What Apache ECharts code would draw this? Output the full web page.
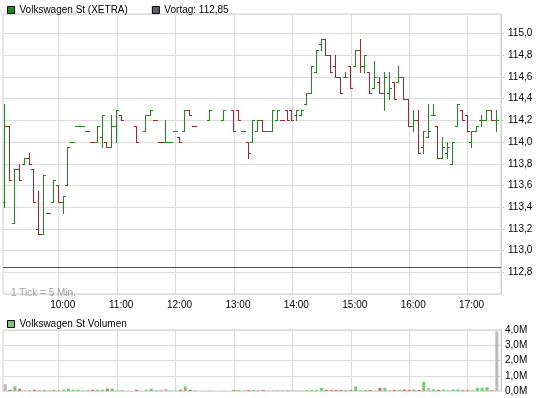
<!DOCTYPE html>
<html><head><meta charset="utf-8">
<script src="https://cdn.jsdelivr.net/npm/echarts@6/dist/echarts.min.js"></script>
<style>html,body{margin:0;padding:0;background:#fff}#c{width:545px;height:398px}</style>
</head><body><div id="c"></div>
<script>
// ---- data (5-minute OHLC bars, XETRA) ----
const times = ["09:05","09:10","09:15","09:20","09:25","09:30","09:35","09:40","09:45","09:50","09:55","10:00","10:05","10:10","10:15","10:20","10:25","10:30","10:35","10:40","10:45","10:50","10:55","11:00","11:05",
"11:20",
"11:30","11:35","11:40","11:45","11:50","11:55","12:00","12:05","12:10","12:15","12:20",
"12:35","12:50",
"13:00","13:05","13:10","13:15","13:20","13:25","13:30","13:35","13:40","13:45","13:50","13:55",
"14:00","14:05","14:10","14:15","14:20","14:25","14:30","14:35","14:40","14:45","14:50","14:55",
"15:00","15:05","15:10","15:15","15:20","15:25","15:30","15:35","15:40","15:45","15:50","15:55",
"16:00","16:05","16:10","16:15","16:20","16:25","16:30","16:35","16:40","16:45","16:50","16:55",
"17:00","17:05","17:10","17:15","17:20","17:25","17:30"];
const opens = [113.45,114.15,113.25,113.75,113.80,113.85,113.75,113.20,113.15,113.35,113.45,113.60,113.45,113.60,114.00,114.15,114.15,114.10,114.00,114.00,114.05,114.00,113.95,114.15,114.25,
114.15,
114.10,114.25,114.20,114.00,114.00,114.00,114.10,114.05,114.10,114.30,114.15,
114.20,114.20,
114.30,114.30,114.10,114.00,114.00,114.10,114.20,114.10,114.10,114.20,114.20,114.30,
114.30,114.25,114.25,114.35,114.45,114.65,114.90,114.95,114.80,114.70,114.60,114.60,
114.70,114.70,114.85,114.70,114.65,114.50,114.55,114.45,114.45,114.55,114.55,114.60,
114.40,114.15,114.20,113.95,114.05,114.25,114.15,113.85,113.90,113.80,114.15,114.30,
114.25,114.00,114.10,114.20,114.20,114.30,114.20];
const highs = [114.35,114.15,113.75,113.80,113.85,113.90,113.75,113.55,113.70,113.35,113.65,113.60,113.50,113.95,114.00,114.15,114.15,114.10,114.00,114.15,114.25,114.00,114.25,114.30,114.25,
114.15,
114.25,114.30,114.20,114.00,114.20,114.00,114.10,114.05,114.30,114.30,114.15,
114.30,114.30,
114.30,114.30,114.10,114.00,114.20,114.20,114.20,114.10,114.30,114.30,114.20,114.30,
114.30,114.30,114.30,114.45,114.70,114.85,114.95,114.95,114.80,114.80,114.60,114.65,
114.70,114.85,114.95,114.80,114.65,114.75,114.60,114.65,114.65,114.55,114.70,114.60,
114.40,114.30,114.30,114.10,114.35,114.35,114.15,114.05,114.00,114.00,114.35,114.30,
114.25,114.10,114.15,114.25,114.30,114.30,114.30];
const lows = [113.40,113.65,113.25,113.65,113.80,113.80,113.45,113.15,113.15,113.35,113.45,113.45,113.35,113.60,114.00,114.15,114.15,114.10,114.00,114.00,113.95,113.95,113.95,114.00,114.20,
114.00,
114.10,114.25,114.20,114.00,114.00,114.00,114.10,114.00,114.10,114.25,114.15,
114.20,114.20,
114.10,114.20,114.10,113.85,114.00,114.10,114.10,114.10,114.10,114.20,114.20,114.20,
114.20,114.20,114.25,114.35,114.45,114.65,114.85,114.80,114.65,114.60,114.45,114.60,
114.50,114.70,114.65,114.65,114.45,114.50,114.45,114.30,114.40,114.40,114.55,114.40,
114.15,114.10,113.90,113.90,114.05,114.25,113.85,113.85,113.85,113.80,114.15,114.20,
114.10,113.95,114.10,114.15,114.20,114.20,114.10];
const closes = [114.15,113.65,113.75,113.65,113.85,113.80,113.45,113.15,113.70,113.35,113.65,113.45,113.50,113.95,114.00,114.15,114.15,114.10,114.00,114.15,114.25,113.95,114.15,114.30,114.20,
114.00,
114.25,114.30,114.20,114.00,114.00,114.00,114.10,114.00,114.30,114.25,114.15,
114.30,114.30,
114.10,114.20,114.10,113.90,114.20,114.20,114.10,114.10,114.30,114.30,114.20,114.20,
114.20,114.30,114.30,114.45,114.70,114.85,114.95,114.80,114.65,114.60,114.45,114.60,
114.50,114.85,114.70,114.80,114.45,114.60,114.45,114.60,114.50,114.40,114.60,114.40,
114.15,114.20,113.90,114.10,114.10,114.25,113.85,113.95,113.95,114.00,114.35,114.20,
114.10,114.10,114.15,114.20,114.30,114.20,114.20];
// volume in millions of shares
const volumes = [0.45,0.08,0.30,0.15,0.03,0.03,0.08,0.03,0.08,0.03,0.08,0.03,0.08,0.15,0.08,0.08,0.03,0.03,0.08,0.08,0.08,0.15,0.15,0.03,0.03,
0.08,
0.08,0.15,0.03,0.03,0.15,0.03,0.03,0.08,0.30,0.08,0.02,
0.02,0.02,
0.06,0.06,0.02,0.06,0.06,0.06,0.06,0.02,0.02,0.06,0.02,0.06,
0.06,0.02,0.02,0.06,0.06,0.06,0.20,0.07,0.07,0.07,0.07,0.07,
0.07,0.30,0.03,0.07,0.07,0.03,0.20,0.20,0.03,0.07,0.07,0.10,
0.07,0.10,0.07,0.60,0.20,0.10,0.07,0.10,0.07,0.10,0.10,0.05,
0.05,0.05,0.20,0.20,0.25,0.05,3.90];
const prevClose = 112.85;
const hourLabels = ["10:00","11:00","12:00","13:00","14:00","15:00","16:00","17:00"];
const seriesName = "Volkswagen St (XETRA)";
const prevName = "Vortag: 112,85";
const volName = "Volkswagen St Volumen";

// ---- helpers ----
function toMin(t){const p=t.split(':').map(Number);return (p[0]-9)*60+p[1];}
const XMIN = 2.75, XMAX = 514.3;
const UP = '#1b8a1b', DOWN = '#a8232b';
const VUP = '#72cc72', VDOWN = '#c97070', VFLAT = '#bbbbbb';
const GRID = '#dcdcdc', FRAME = '#cfcfcf';
const FONT = 'Liberation Sans, Arial, sans-serif';
const FS = 10;
const hourMins = hourLabels.map(toMin);

const priceDir = closes.map((c,i)=>{
  const o = opens[i];
  if (c>o) return 1; if (c<o) return -1;
  const p = i>0 ? closes[i-1] : c;
  return c<p ? -1 : 1;
});
const volDir = closes.map((c,i)=> i===0 ? 0 : (c>closes[i-1] ? 1 : (c<closes[i-1] ? -1 : 0)));

const ohlc = times.map((t,i)=>[toMin(t), opens[i], highs[i], lows[i], closes[i], priceDir[i]]);
const vol = times.map((t,i)=>({value:[toMin(t), volumes[i]],
  itemStyle:{color: volDir[i]>0?VUP:(volDir[i]<0?VDOWN:VFLAT)}}));

const fmt1 = v => v.toFixed(1).replace('.', ',');
const TICK = 2;

const chart = echarts.init(document.getElementById('c'), null, {renderer:'canvas'});
chart.setOption({
  animation:false,
  backgroundColor:'#fff',
  textStyle:{fontFamily:FONT},
  legend:[
    {left:2, top:0, icon:'rect', itemWidth:7, itemHeight:7, itemGap:24,
     itemStyle:{borderColor:'#000', borderWidth:1},
     textStyle:{fontSize:FS, color:'#000', fontFamily:FONT, padding:[0,0,0,0]},
     data:[seriesName, prevName], selectedMode:false},
    {left:2, top:314, icon:'rect', itemWidth:7, itemHeight:7,
     itemStyle:{borderColor:'#000', borderWidth:1},
     textStyle:{fontSize:FS, color:'#000', fontFamily:FONT, padding:[0,0,0,0]},
     data:[volName], selectedMode:false}
  ],
  title:{text:'1 Tick = 5 Min.', left:6, top:283,
    textStyle:{fontSize:FS, fontWeight:'normal', color:'#a0a0a0', fontFamily:FONT}},
  grid:[
    {left:3, right:44, top:14, height:280, show:true, borderColor:FRAME, borderWidth:1, outerBoundsMode:'none'},
    {left:3, right:44, top:330, height:61, show:true, borderColor:FRAME, borderWidth:1, outerBoundsMode:'none'}
  ],
  xAxis:[
    {type:'value', gridIndex:0, min:XMIN, max:XMAX,
     axisLine:{show:false},
     axisTick:{show:false, customValues:hourMins},
     axisLabel:{customValues:hourMins, formatter:v=>hourLabels[hourMins.indexOf(v)]||'', fontSize:FS, color:'#000', margin:6, padding:[0,0,0,8], fontFamily:FONT},
     splitLine:{show:true, lineStyle:{color:GRID, width:1}}},
    {type:'value', gridIndex:1, min:XMIN, max:XMAX,
     axisLine:{show:false},
     axisTick:{show:false, customValues:hourMins},
     axisLabel:{show:false, customValues:hourMins},
     splitLine:{show:true, lineStyle:{color:GRID, width:1}}}
  ],
  yAxis:[
    {type:'value', gridIndex:0, position:'right', min:112.6, max:115.18, interval:0.2,
     axisLine:{show:true, lineStyle:{color:FRAME}},
     axisTick:{show:true, length:3, lineStyle:{color:FRAME}},
     axisLabel:{formatter:fmt1, fontSize:FS, color:'#000', margin:7, showMaxLabel:false, showMinLabel:false, fontFamily:FONT},
     splitLine:{show:true, lineStyle:{color:GRID, width:1}}},
    {type:'value', gridIndex:1, position:'right', min:0, max:4, interval:1,
     axisLine:{show:true, lineStyle:{color:FRAME}},
     axisTick:{show:false},
     axisLabel:{formatter:v=>fmt1(v)+'M', fontSize:FS, color:'#000', margin:4, fontFamily:FONT},
     splitLine:{show:true, lineStyle:{color:GRID, width:1}}}
  ],
  series:[
    {name:seriesName, type:'custom', xAxisIndex:0, yAxisIndex:0, itemStyle:{color:'#119111'},
     data:ohlc, clip:true,
     renderItem:(params, api)=>{
       const m = api.value(0);
       const ph = api.coord([m, api.value(2)]);
       const pl = api.coord([m, api.value(3)]);
       const po = api.coord([m, api.value(1)]);
       const pc = api.coord([m, api.value(4)]);
       const x = Math.round(ph[0]) - 0.5;
       const yh = Math.round(ph[1]), yl = Math.round(pl[1]);
       const yo = Math.round(po[1]) + 0.5, yc = Math.round(pc[1]) + 0.5;
       const col = api.value(5) > 0 ? UP : DOWN;
       const st = {stroke:col, lineWidth:1};
       return {type:'group', children:[
         {type:'line', shape:{x1:x, y1:yh, x2:x, y2:yl+1}, style:st},
         {type:'line', shape:{x1:x-0.5-TICK, y1:yo, x2:x-0.5, y2:yo}, style:st},
         {type:'line', shape:{x1:x+0.5, y1:yc, x2:x+0.5+TICK, y2:yc}, style:st}
       ]};
     }},
    {name:prevName, type:'line', xAxisIndex:0, yAxisIndex:0, data:[], itemStyle:{color:'#5f5f6b'},
     markLine:{silent:true, symbol:['none','none'], label:{show:false},
       lineStyle:{color:'#55555f', width:1, type:'solid'},
       data:[{yAxis:prevClose}]}},
    {name:volName, type:'bar', xAxisIndex:1, yAxisIndex:1, barWidth:3,
     itemStyle:{color:VUP}, data:vol}
  ]
});
</script></body></html>
